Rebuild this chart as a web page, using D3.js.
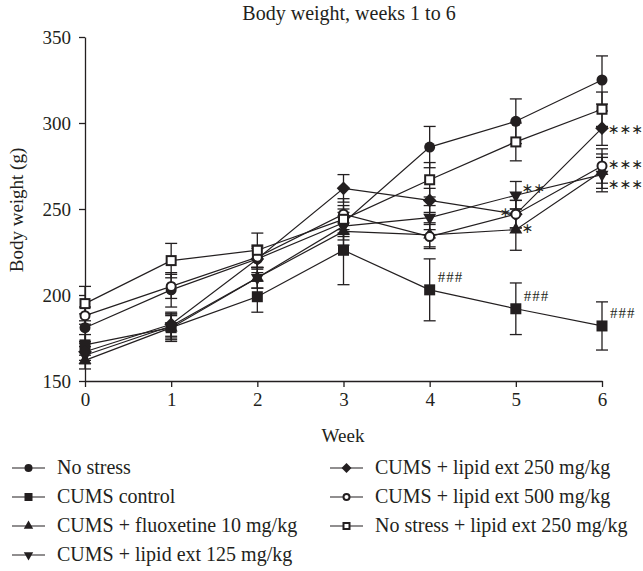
<!DOCTYPE html>
<html>
<head>
<meta charset="utf-8">
<script src="https://cdn.jsdelivr.net/npm/d3@7"></script>
<style>
  body { margin: 0; background: #fff; }
  text { font-family: "Liberation Serif", "DejaVu Serif", serif; fill: #231f20; }
</style>
</head>
<body>
<svg id="chart" width="643" height="571"></svg>
<script>
// weeks and group names
var weeks = [0, 1, 2, 3, 4, 5, 6];
var yTicks = [150, 200, 250, 300, 350];
var groups = ["No stress", "CUMS control", "CUMS + fluoxetine 10 mg/kg", "CUMS + lipid ext 125 mg/kg",
  "CUMS + lipid ext 250 mg/kg", "CUMS + lipid ext 500 mg/kg", "No stress + lipid ext 250 mg/kg"];

// mean body weight (g) per week
var noStress     = [181, 203, 221, 242, 286, 301, 325];
var cumsControl  = [171, 181, 199, 226, 203, 192, 182];
var fluoxetine   = [162, 181, 210, 237, 235, 238, 272];
var lipid125     = [165, 182, 210, 240, 245, 258, 270];
var lipid250     = [167, 183, 221, 262, 255, 247, 297];
var lipid500     = [188, 205, 222, 247, 234, 247, 275];
var noStress250  = [195, 220, 226, 244, 267, 289, 308];

// SEM (error bars)
var noStressErr    = [8, 10, 8, 8, 12, 13, 14];
var cumsControlErr = [6, 8, 9, 20, 18, 15, 14];
var fluoxetineErr  = [5, 7, 6, 8, 7, 12, 10];
var lipid125Err    = [5, 7, 6, 8, 7, 8, 10];
var lipid250Err    = [5, 7, 6, 8, 7, 8, 10];
var lipid500Err    = [5, 7, 6, 9, 7, 8, 10];
var noStress250Err = [10, 10, 10, 8, 10, 11, 10];

// significance marks: [week, y value, label]
var marksHash = [[4, 203, "###"], [5, 192, "###"], [6, 182, "###"]];
var marksStar = [[6, 297, "∗∗∗"], [6, 276, "∗∗∗"], [6, 268, "∗∗∗"], [5, 258, "∗∗"], [5, 249, "∗"], [5, 244, "∗"]];

var seriesVals = [noStress, cumsControl, fluoxetine, lipid125, lipid250, lipid500, noStress250];
var seriesErr = [noStressErr, cumsControlErr, fluoxetineErr, lipid125Err, lipid250Err, lipid500Err, noStress250Err];
var shapes = ["circle", "square", "tri", "triDown", "diamond", "openCircle", "openSquare"];

var ink = "#231f20";
var svg = d3.select("#chart");

var x = d3.scaleLinear().domain([0, 6]).range([85, 602]);
var y = d3.scaleLinear().domain([150, 350]).range([381, 37]);

// title
svg.append("text").attr("x", 349).attr("y", 20).attr("text-anchor", "middle")
  .style("font-size", "20px").text("Body weight, weeks 1 to 6");

// axes
svg.append("g").attr("transform", "translate(85,0)")
  .call(d3.axisLeft(y).tickValues(yTicks).tickSize(6).tickSizeOuter(0).tickPadding(8).tickFormat(d3.format("d")));
svg.append("g").attr("transform", "translate(0,381)")
  .call(d3.axisBottom(x).tickValues(weeks).tickSize(6).tickSizeOuter(0).tickPadding(6).tickFormat(d3.format("d")));
svg.selectAll(".domain, .tick line").attr("stroke", ink).attr("stroke-width", 1.3);
svg.selectAll(".tick text").style("font-size", "19px").attr("fill", ink).attr("font-family", null);

svg.append("text").attr("transform", "translate(23,210) rotate(-90)").attr("text-anchor", "middle")
  .style("font-size", "19px").text("Body weight (g)");
svg.append("text").attr("x", 343).attr("y", 442).attr("text-anchor", "middle")
  .style("font-size", "19px").text("Week");

function drawMarker(g, shape, s) {
  // s = nominal size in px
  if (shape == "circle") {
    g.append("circle").attr("r", s / 2).attr("fill", ink);
  } else if (shape == "openCircle") {
    g.append("circle").attr("r", s / 2 - 1).attr("fill", "#fff").attr("stroke", ink).attr("stroke-width", 2);
  } else if (shape == "square") {
    g.append("rect").attr("x", -s / 2).attr("y", -s / 2).attr("width", s).attr("height", s).attr("fill", ink);
  } else if (shape == "openSquare") {
    g.append("rect").attr("x", -s / 2 + 1).attr("y", -s / 2 + 1).attr("width", s - 2).attr("height", s - 2)
      .attr("fill", "#fff").attr("stroke", ink).attr("stroke-width", 2);
  } else if (shape == "diamond") {
    var h = s * 0.62;
    g.append("path").attr("d", "M0," + (-h) + "L" + h + ",0L0," + h + "L" + (-h) + ",0Z").attr("fill", ink);
  } else if (shape == "tri") {
    g.append("path").attr("d", d3.symbol(d3.symbolTriangle, s * s * 0.6)()).attr("fill", ink);
  } else if (shape == "triDown") {
    g.append("path").attr("d", d3.symbol(d3.symbolTriangle, s * s * 0.6)()).attr("transform", "rotate(180)").attr("fill", ink);
  }
}

var line = d3.line().x(function (d, i) { return x(weeks[i]); }).y(function (d) { return y(d); });

// lines
seriesVals.forEach(function (vals) {
  svg.append("path").datum(vals).attr("d", line).attr("fill", "none").attr("stroke", ink).attr("stroke-width", 1.2);
});

// error bars
seriesVals.forEach(function (vals, k) {
  var errs = seriesErr[k];
  var eb = svg.append("g").attr("stroke", ink).attr("stroke-width", 1.3);
  vals.forEach(function (v, i) {
    var cx = x(weeks[i]);
    eb.append("line").attr("x1", cx).attr("x2", cx).attr("y1", y(v - errs[i])).attr("y2", y(v + errs[i]));
    eb.append("line").attr("x1", cx - 6).attr("x2", cx + 6).attr("y1", y(v + errs[i])).attr("y2", y(v + errs[i]));
    eb.append("line").attr("x1", cx - 6).attr("x2", cx + 6).attr("y1", y(v - errs[i])).attr("y2", y(v - errs[i]));
  });
});

// markers
seriesVals.forEach(function (vals, k) {
  vals.forEach(function (v, i) {
    var g = svg.append("g").attr("transform", "translate(" + x(weeks[i]) + "," + y(v) + ")");
    drawMarker(g, shapes[k], 11);
  });
});

// significance labels
marksHash.forEach(function (m) {
  svg.append("text").attr("x", x(m[0]) + 8).attr("y", y(m[1]) - 8).style("font-size", "15px")
    .attr("letter-spacing", "1px").text(m[2]);
});
var starPos = [[6, 6], [6, 5], [6, 11], [6, -2], [-16, 6], [6, 14]];
marksStar.forEach(function (m, i) {
  svg.append("text").attr("x", x(m[0]) + starPos[i][0]).attr("y", y(m[1]) + starPos[i][1])
    .style("font-family", "DejaVu Sans").style("font-size", "14px").style("opacity", 0.99)
    .text(m[2]);
});

// legend
var legPos = [[12, 468], [12, 497], [12, 526], [12, 555], [330, 468], [330, 497], [330, 526]];
groups.forEach(function (name, k) {
  var lg = svg.append("g").attr("transform", "translate(" + legPos[k][0] + "," + legPos[k][1] + ")");
  lg.append("line").attr("x1", 0).attr("x2", 33).attr("stroke", ink).attr("stroke-width", 1.2);
  var m = lg.append("g").attr("transform", "translate(16.5,0)");
  drawMarker(m, shapes[k], 8);
  lg.append("text").attr("x", 45).attr("y", 6).style("font-size", "20px").text(name);
});
</script>
</body>
</html>
